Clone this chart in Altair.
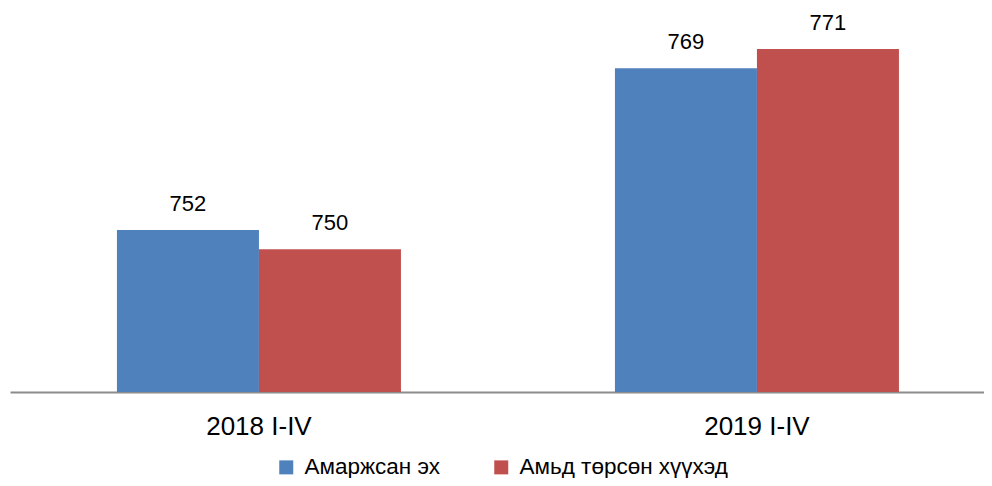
import altair as alt
import pandas as pd

periods = ["2018 I-IV", "2019 I-IV"]
series = ["Амаржсан эх", "Амьд төрсөн хүүхэд"]
mothers = [752, 769]
births = [750, 771]
colors = ["#4F81BD", "#C0504D"]

rows = []
for i, p in enumerate(periods):
    rows.append({"period": p, "series": series[0], "value": mothers[i]})
    rows.append({"period": p, "series": series[1], "value": births[i]})
df = pd.DataFrame(rows)

FONT = "Liberation Sans"

x_enc = alt.X(
    "period:N",
    sort=periods,
    scale=alt.Scale(paddingInner=0.4297, paddingOuter=0.19277, align=0.557),
    axis=alt.Axis(
        title=None, labelAngle=0, labelFontSize=26, labelFont=FONT,
        labelColor="black", ticks=False, domainColor="#8c8c8c",
        domainWidth=2, labelPadding=21, grid=False,
    ),
)
xoff = alt.XOffset("series:N", sort=series,
                   scale=alt.Scale(paddingInner=0, paddingOuter=0))
y_enc = alt.Y("value:Q", scale=alt.Scale(domain=[735, 775], zero=False, nice=False),
              axis=None)

bars = alt.Chart(df).mark_bar(clip=True).encode(
    x=x_enc,
    xOffset=xoff,
    y=y_enc,
    color=alt.Color(
        "series:N", sort=series,
        scale=alt.Scale(domain=series, range=colors),
        legend=alt.Legend(
            title=None, orient="none", direction="horizontal",
            legendX=265, legendY=445, symbolType="square", symbolSize=196,
            symbolStrokeWidth=0, labelFontSize=22.5, labelFont=FONT,
            labelColor="black", columnPadding=50, padding=0, labelLimit=0,
            labelOffset=7,
        ),
    ),
)

labels = alt.Chart(df).mark_text(
    dy=-19, fontSize=22, font=FONT, baseline="alphabetic", color="black"
).encode(
    x=x_enc, xOffset=xoff, y=y_enc, text=alt.Text("value:Q")
)

chart = (bars + labels).properties(
    width=974, height=381,
    padding={"left": 2, "top": 3, "right": 0, "bottom": 86},
    autosize=alt.AutoSizeParams(type="none"),
).configure_view(stroke=None)

chart.save("out.html", embed_options={"renderer": "svg", "actions": False})
